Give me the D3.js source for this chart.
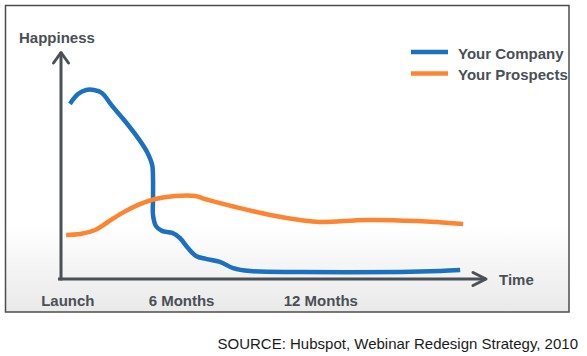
<!DOCTYPE html>
<html><head><meta charset="utf-8">
<script src="https://cdn.jsdelivr.net/npm/d3@7"></script>
<style>
html,body{margin:0;padding:0;background:#fff;}
svg{display:block;font-family:"Liberation Sans",Arial,Helvetica,sans-serif;}
</style></head>
<body>
<svg id="chart" width="587" height="356"></svg>
<script>
// ---- data (time progress 0-100, happiness 0-100) ----
const companyTime      = [2.1,4.0,5.9,7.7,9.6,12.0,15.0,18.1,20.2,21.4,21.6,21.6,21.6,22.3,23.7,26.1,27.9,29.8,31.7,34.0,37.3,40.4,44.4,56.1,79.6,89.0,93.7];
const companyHappiness = [76.8,81.1,82.9,82.9,81.6,75.9,69.3,61.8,55.7,50.0,43.4,34.6,28.1,23.2,21.1,20.2,18.0,13.6,10.1,8.8,7.5,4.8,3.5,3.1,3.1,3.5,3.9];
const prospectTime      = [1.2,4.5,8.0,11.0,14.3,18.1,22.1,26.8,31.5,33.8,36.2,42.0,49.1,56.1,60.8,71.8,83.6,94.4];
const prospectHappiness = [19.3,19.7,21.5,25.0,28.9,32.5,35.1,36.4,36.4,35.1,33.8,31.1,28.1,25.9,25.0,25.9,25.4,24.1];
const tickLabels    = ["Launch","6 Months","12 Months"];
const tickPositions = [1.6,28.3,61.0];
const seriesNames   = ["Your Company","Your Prospects"];
const seriesColors  = ["#1b71bf","#fd8431"];
const yLabel = "Happiness", xLabel = "Time";
const source = "SOURCE: Hubspot, Webinar Redesign Strategy, 2010";

const svg = d3.select("#chart");
const axisColor = "#4b5057", textColor = "#4a4f56";

// frame with gradient
const defs = svg.append("defs");
const g = defs.append("linearGradient").attr("id","bg").attr("x1",0).attr("x2",0).attr("y1",0).attr("y2",1);
g.append("stop").attr("offset","0%").attr("stop-color","#ffffff");
g.append("stop").attr("offset","72%").attr("stop-color","#ffffff");
g.append("stop").attr("offset","100%").attr("stop-color","#e9e9e9");
svg.append("rect").attr("x",5.5).attr("y",5.5).attr("width",563.5).attr("height",306.5)
  .attr("fill","url(#bg)").attr("stroke","#4d4d4d").attr("stroke-width",1.5);

const x = d3.scaleLinear().domain([0,100]).range([61,487]);
const y = d3.scaleLinear().domain([0,100]).range([279,51]);

// axes
svg.append("line").attr("x1",x(0)).attr("x2",x(0)).attr("y1",y(0)+1.5).attr("y2",y(100)+1)
  .attr("stroke",axisColor).attr("stroke-width",3);
svg.append("line").attr("x1",x(0)-3).attr("x2",x(100)-1).attr("y1",y(0)).attr("y2",y(0))
  .attr("stroke",axisColor).attr("stroke-width",3);
svg.append("path").attr("d",`M${x(0)-7.5},${y(100)+12}L${x(0)},${y(100)+1.5}L${x(0)+7.5},${y(100)+12}`)
  .attr("fill","none").attr("stroke",axisColor).attr("stroke-width",3).attr("stroke-linecap","round").attr("stroke-linejoin","round");
svg.append("path").attr("d",`M${x(100)-14},${y(0)-6.5}L${x(100)-1},${y(0)}L${x(100)-14},${y(0)+6.5}`)
  .attr("fill","none").attr("stroke",axisColor).attr("stroke-width",3).attr("stroke-linecap","round").attr("stroke-linejoin","round");

// labels
const lbl = (t,xx,yy,anchor,size,weight,fill) => svg.append("text").attr("x",xx).attr("y",yy)
  .attr("text-anchor",anchor).attr("font-size",size).attr("font-weight",weight).attr("fill",fill).text(t);
lbl(yLabel,19,43,"start","15px","bold",textColor);
lbl(xLabel,499,285,"start","15px","bold",textColor);
tickLabels.forEach((t,i)=>lbl(t,x(tickPositions[i]),306,"middle","15px","bold",textColor));
lbl(source,578,349,"end","15px","normal","#1a1a1a");

// series
const line = d3.line().x(d=>x(d[0])).y(d=>y(d[1])).curve(d3.curveCatmullRom.alpha(0.5));
const series = [
  d3.zip(companyTime, companyHappiness),
  d3.zip(prospectTime, prospectHappiness)
];
series.forEach((s,i)=>{
  svg.append("path").datum(s).attr("d",line).attr("fill","none")
    .attr("stroke",seriesColors[i]).attr("stroke-width",4.5).attr("stroke-linecap","butt");
});

// legend
seriesNames.forEach((n,i)=>{
  const ly = 52 + i*21.5;
  svg.append("line").attr("x1",411).attr("x2",448).attr("y1",ly).attr("y2",ly)
    .attr("stroke",seriesColors[i]).attr("stroke-width",4.5);
  lbl(n,458,ly+6.5,"start","15px","bold",textColor);
});
</script>
</body></html>
